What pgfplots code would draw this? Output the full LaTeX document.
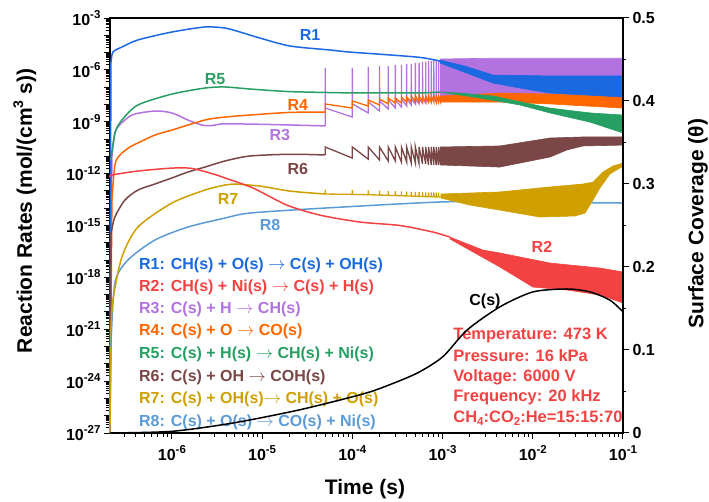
\documentclass[border=0pt]{standalone}
\usepackage{fontspec}
\setmainfont{Liberation Sans}
\usepackage{pgfplots}
\pgfplotsset{compat=1.18}
\definecolor{cA}{RGB}{26,105,224}
\definecolor{cB}{RGB}{244,66,66}
\definecolor{cC}{RGB}{178,114,224}
\definecolor{cD}{RGB}{255,102,0}
\definecolor{cE}{RGB}{38,160,98}
\definecolor{cF}{RGB}{122,70,70}
\definecolor{cG}{RGB}{208,160,0}
\definecolor{cH}{RGB}{91,155,213}
\newcommand\fs[1]{\fontsize{#1}{#1}\selectfont}
\newcommand\su[1]{\raisebox{0.42em}{\fs{11.5}#1}}
\newcommand\sub[1]{\raisebox{-0.22em}{\fs{11.5}#1}}
\pgfplotsset{table/lg/.style={header=false,row sep=\\,x expr=10^(\thisrowno{0}),y expr=10^(\thisrowno{1})},
 table/lt/.style={header=false,row sep=\\,x expr=10^(\thisrowno{0}),y index=1},
 ln/.style={line width=1.5pt,line join=round},
 sm/.style={line width=1.5pt,line join=round,smooth,tension=0.45},
 sw/.style={line width=1.3pt,line join=miter},
 bd/.style={draw=#1,fill=#1,line width=0.6pt}}
\def\yminor{1e-27}
\foreach \e in {-27,...,-4}{\foreach \m in {2,...,9}{\xdef\yminor{\yminor,\m e\e}}}
\def\xminor{3e-7,4e-7,5e-7,6e-7,7e-7,8e-7,9e-7}
\foreach \e in {-6,...,-2}{\foreach \m in {2,...,9}{\xdef\xminor{\xminor,\m e\e}}}
\begin{document}
\begin{tikzpicture}[font=\bfseries]
\begin{axis}[
 scale only axis, width=513pt, height=415pt,
 at={(0,0)}, anchor=south west,
 xmode=log, ymode=log,
 xmin=2.06e-7, xmax=0.1, ymin=1e-27, ymax=1e-3,
 clip=false,
 axis line style={line width=1.2pt},
 tick align=outside, xtick pos=bottom, ytick pos=left,
 major tick length=6pt, minor tick length=3.5pt,
 tick style={line width=1pt,black},
 xtick={1e-6,1e-5,1e-4,1e-3,1e-2,1e-1},
 minor xtick/.expand once=\xminor,
 xticklabels={10\su{-6},10\su{-5},10\su{-4},10\su{-3},10\su{-2},10\su{-1}},
 ytick={1e-27,1e-26,1e-25,1e-24,1e-23,1e-22,1e-21,1e-20,1e-19,1e-18,1e-17,1e-16,1e-15,1e-14,1e-13,1e-12,1e-11,1e-10,1e-9,1e-8,1e-7,1e-6,1e-5,1e-4,1e-3},
 minor ytick/.expand once=\yminor,
 yticklabels={10\su{-27},,,10\su{-24},,,10\su{-21},,,10\su{-18},,,10\su{-15},,,10\su{-12},,,10\su{-9},,,10\su{-6},,,10\su{-3}},
 tick label style={font=\bfseries\fs{16}},
 xticklabel style={yshift=-3pt},
]
% initial vertical rises
\addplot[ln,cC] table[lg]{-6.687 -27\\ -6.665 -11.0\\};
\addplot[ln,cD] table[lg]{-6.687 -27\\ -6.665 -13.53\\};
\addplot[ln,cE] table[lg]{-6.687 -27\\ -6.676 -11.21\\};
\addplot[ln,cA] table[lg]{-6.687 -27\\ -6.676 -5.60\\};
\addplot[ln,cF] table[lg]{-6.687 -27\\ -6.676 -15.5\\};
\addplot[ln,cH] table[lg]{-6.687 -27\\ -6.676 -22.0\\};
\addplot[ln,cG] table[lg]{-6.687 -27\\ -6.676 -21.0\\};
% R3 purple
\addplot[sm,cC] table[lg]{
-6.665 -11.0\\ -6.632 -9.71\\ -6.599 -9.30\\ -6.443 -8.61\\ -6.188 -8.38\\ -6.000 -8.49\\ -5.823 -8.90\\ -5.667 -9.19\\ -5.557 -9.22\\ -5.412 -9.12\\ -4.900 -9.16\\ -4.301 -9.24\\
};
\addplot[sw,cC] table[lg]{
-4.301 -9.24\\ -4.301 -5.89\\ -4.299 -8.21\\
-4.000 -8.73\\ -4.000 -5.89\\ -3.998 -7.97\\
-3.824 -8.49\\ -3.824 -5.83\\ -3.822 -7.86\\
-3.699 -8.38\\ -3.699 -5.78\\ -3.697 -7.80\\
-3.602 -8.26\\ -3.602 -5.78\\ -3.600 -7.74\\
-3.523 -8.21\\ -3.523 -5.72\\ -3.521 -7.74\\
-3.456 -8.15\\ -3.456 -5.72\\ -3.454 -7.69\\
-3.398 -8.09\\ -3.398 -5.66\\ -3.396 -7.69\\
-3.347 -8.03\\ -3.347 -5.66\\ -3.345 -7.69\\
-3.301 -7.97\\ -3.301 -5.60\\ -3.299 -7.69\\
-3.260 -7.97\\ -3.260 -5.60\\ -3.258 -7.69\\
-3.222 -7.92\\ -3.222 -5.54\\ -3.220 -7.69\\
-3.187 -7.92\\ -3.187 -5.54\\ -3.185 -7.69\\
-3.155 -7.86\\ -3.155 -5.49\\ -3.153 -7.69\\
-3.125 -7.86\\ -3.125 -5.49\\ -3.123 -7.69\\
-3.097 -7.80\\ -3.097 -5.43\\ -3.095 -7.69\\
-3.071 -7.80\\ -3.071 -5.43\\ -3.069 -7.69\\
-3.046 -7.74\\ -3.046 -5.43\\ -3.044 -7.69\\
-3.022 -7.74\\ -3.022 -5.37\\
};
\addplot[bd=cC] table[lg]{
-3.022 -5.37\\ -2.500 -5.33\\ -1.000 -5.33\\ -1.000 -7.74\\ -2.500 -7.74\\ -3.022 -7.74\\
};
% R4 orange
\addplot[sm,cD] table[lg]{
-6.665 -13.53\\ -6.632 -11.50\\ -6.576 -10.92\\ -6.466 -10.46\\ -6.377 -10.23\\ -6.188 -9.77\\ -6.000 -9.48\\ -5.634 -8.90\\ -5.412 -8.73\\ -5.135 -8.61\\ -4.692 -8.46\\ -4.301 -8.44\\
};
\addplot[sw,cD] table[lg]{
-4.301 -8.44\\ -4.301 -7.97\\
-4.000 -8.21\\ -4.000 -7.80\\
-3.824 -8.09\\ -3.824 -7.74\\
-3.699 -8.03\\ -3.699 -7.69\\
-3.602 -7.97\\ -3.602 -7.63\\
-3.523 -7.92\\ -3.523 -7.63\\
-3.456 -7.92\\ -3.456 -7.57\\
-3.398 -7.86\\ -3.398 -7.57\\
-3.347 -7.86\\ -3.347 -7.51\\
-3.301 -7.86\\ -3.301 -7.51\\
-3.260 -7.86\\ -3.260 -7.51\\
-3.222 -7.86\\ -3.222 -7.51\\
-3.187 -7.86\\ -3.187 -7.51\\
-3.155 -7.86\\ -3.155 -7.51\\
-3.125 -7.86\\ -3.125 -7.51\\
-3.097 -7.86\\ -3.097 -7.51\\
-3.071 -7.86\\ -3.071 -7.51\\
-3.046 -7.86\\ -3.046 -7.51\\
-3.022 -7.86\\ -3.022 -7.51\\
};
\addplot[bd=cD] table[lg]{
-3.022 -7.51\\ -2.364 -7.34\\ -1.809 -7.40\\ -1.000 -7.57\\ -1.000 -8.21\\ -1.809 -7.97\\ -2.364 -7.86\\ -3.022 -7.86\\
};
\addplot[cD,line width=1.2pt] table[lg]{ -1.000 -8.21\\ -1.000 -14.51\\ };
% R5 green
\addplot[sm,cE] table[lg]{
-6.676 -11.21\\ -6.632 -9.65\\ -6.554 -8.90\\ -6.377 -8.03\\ -6.000 -7.40\\ -5.634 -7.05\\ -5.412 -6.99\\ -5.102 -7.12\\ -4.725 -7.25\\ -4.359 -7.30\\ -3.993 -7.33\\ -3.251 -7.33\\ -3.029 -7.28\\
};
\addplot[bd=cE] table[lg]{
-3.029 -7.28\\ -2.807 -7.34\\ -2.441 -7.51\\ -1.809 -8.21\\ -1.366 -8.49\\ -1.000 -8.61\\ -1.000 -9.65\\ -1.366 -9.02\\ -1.809 -8.49\\ -2.142 -8.03\\ -2.585 -7.63\\ -3.029 -7.28\\
};
% R1 blue
\addplot[sm,cA] table[lg]{
-6.676 -5.60\\ -6.654 -4.97\\ -6.554 -4.68\\ -6.377 -4.27\\ -6.000 -3.81\\ -5.634 -3.52\\ -5.412 -3.58\\ -5.246 -3.81\\ -5.024 -4.16\\ -4.692 -4.62\\ -4.248 -4.85\\ -4.027 -4.97\\ -3.284 -5.26\\ -3.029 -5.49\\
};
\addplot[bd=cA] table[lg]{
-3.029 -5.43\\ -2.752 -5.78\\ -2.441 -6.30\\ -1.809 -6.35\\ -1.000 -6.35\\ -1.000 -7.57\\ -1.809 -7.34\\ -2.142 -7.05\\ -2.441 -6.76\\ -3.029 -5.60\\
};
% R6 brown
\addplot[sm,cF] table[lg]{
-6.676 -15.5\\ -6.632 -14.51\\ -6.521 -13.53\\ -6.377 -12.95\\ -6.188 -12.60\\ -6.000 -12.25\\ -5.823 -11.91\\ -5.634 -11.62\\ -5.412 -11.27\\ -5.135 -10.98\\ -4.692 -10.88\\ -4.301 -10.92\\
};
\addplot[sw,cF] table[lg]{
-4.301 -10.92\\ -4.301 -10.46\\
-4.000 -11.10\\ -4.000 -10.46\\
-3.824 -11.16\\ -3.824 -10.46\\
-3.699 -11.21\\ -3.699 -10.46\\
-3.602 -11.27\\ -3.602 -10.46\\
-3.523 -11.27\\ -3.523 -10.46\\
-3.456 -11.33\\ -3.456 -10.46\\
-3.398 -11.33\\ -3.398 -10.46\\
-3.347 -11.39\\ -3.347 -10.46\\
-3.301 -11.39\\ -3.301 -10.46\\
-3.260 -11.44\\ -3.260 -10.46\\
-3.222 -11.44\\ -3.222 -10.46\\
-3.187 -11.44\\ -3.187 -10.46\\
-3.155 -11.50\\ -3.155 -10.46\\
-3.125 -11.50\\ -3.125 -10.46\\
-3.097 -11.50\\ -3.097 -10.46\\
-3.071 -11.50\\ -3.071 -10.46\\
-3.046 -11.50\\ -3.046 -10.46\\
-3.022 -11.50\\ -3.022 -10.46\\
};
\addplot[bd=cF] table[lg]{
-3.022 -10.46\\ -2.364 -10.40\\ -1.809 -9.94\\ -1.443 -9.88\\ -1.000 -9.88\\ -1.000 -10.35\\ -1.443 -10.40\\ -1.621 -10.63\\ -1.809 -11.04\\ -2.364 -11.62\\ -3.022 -11.50\\
};
% R8 light blue
\addplot[sm,cH] table[lg]{
-6.676 -22.0\\ -6.632 -18.33\\ -6.488 -17.00\\ -6.188 -15.84\\ -5.823 -15.09\\ -5.412 -14.57\\ -5.135 -14.28\\ -4.304 -13.99\\ -3.029 -13.64\\ -2.364 -13.64\\ -1.000 -13.70\\
};
% R7 gold
\addplot[sm,cG] table[lg]{
-6.676 -21.0\\ -6.654 -19.31\\ -6.554 -16.82\\ -6.377 -15.09\\ -6.000 -13.70\\ -5.634 -12.95\\ -5.412 -12.66\\ -5.324 -12.60\\ -5.024 -12.72\\ -4.692 -13.01\\ -4.301 -13.18\\
};
\addplot[sw,cG] table[lg]{
-4.301 -13.18\\ -4.301 -12.93\\ -4.299 -13.18\\
-4.000 -13.20\\ -4.000 -12.95\\ -3.998 -13.20\\
-3.824 -13.22\\ -3.824 -12.97\\ -3.822 -13.22\\
-3.699 -13.24\\ -3.699 -12.99\\ -3.697 -13.24\\
-3.602 -13.26\\ -3.602 -13.01\\ -3.600 -13.26\\
-3.523 -13.27\\ -3.523 -13.02\\ -3.521 -13.27\\
-3.456 -13.28\\ -3.456 -13.03\\ -3.454 -13.28\\
-3.398 -13.29\\ -3.398 -13.04\\ -3.396 -13.29\\
-3.347 -13.30\\ -3.347 -13.05\\ -3.345 -13.30\\
-3.301 -13.31\\ -3.301 -13.06\\ -3.299 -13.31\\
-3.260 -13.32\\ -3.260 -13.07\\ -3.258 -13.32\\
-3.222 -13.32\\ -3.222 -13.07\\ -3.220 -13.32\\
-3.187 -13.33\\ -3.187 -13.08\\ -3.185 -13.33\\
-3.155 -13.33\\ -3.155 -13.08\\ -3.153 -13.33\\
-3.125 -13.34\\ -3.125 -13.09\\ -3.123 -13.34\\
-3.097 -13.34\\ -3.097 -13.09\\ -3.095 -13.34\\
-3.071 -13.35\\ -3.071 -13.10\\ -3.069 -13.35\\
-3.046 -13.35\\ -3.046 -13.10\\ -3.044 -13.35\\
-3.022 -13.35\\
};
\addplot[bd=cG] table[lg]{
-3.022 -13.18\\ -2.364 -13.06\\ -1.809 -12.77\\ -1.443 -12.60\\ -1.333 -12.49\\ -1.222 -11.91\\ -1.111 -11.56\\ -1.000 -11.39\\
-1.000 -11.56\\ -1.144 -12.02\\ -1.255 -12.83\\ -1.333 -13.53\\ -1.421 -14.28\\ -1.532 -14.45\\ -1.920 -14.51\\ -2.364 -14.11\\ -2.696 -13.82\\ -3.022 -13.41\\
};
\addplot[cG,line width=1.2pt] table[lg]{ -1.000 -11.39\\ -1.000 -14.51\\ };
% R2 red
\addplot[sm,cB] table[lg]{
-6.687 -12.20\\ -6.665 -12.08\\ -6.377 -11.85\\ -6.000 -11.68\\ -5.778 -11.70\\ -5.523 -12.05\\ -5.412 -12.25\\ -5.102 -12.83\\ -4.725 -13.82\\ -4.359 -14.40\\ -3.916 -14.80\\ -3.472 -15.00\\ -3.106 -15.38\\ -2.918 -15.67\\
};
\addplot[bd=cB] table[lg]{
-2.918 -15.67\\ -2.552 -16.42\\ -2.364 -16.59\\ -1.809 -17.17\\ -1.255 -17.46\\ -1.000 -17.69\\ -1.000 -19.48\\ -1.255 -19.02\\ -1.621 -18.73\\ -1.998 -18.56\\ -2.364 -17.40\\ -2.918 -15.78\\
};
% curve labels
\node[cA,font=\bfseries\fs{16}] at (rel axis cs:0.390,0.959) {R1};
\node[cE,font=\bfseries\fs{16}] at (rel axis cs:0.205,0.853) {R5};
\node[cD,font=\bfseries\fs{16}] at (rel axis cs:0.366,0.790) {R4};
\node[cC,font=\bfseries\fs{16}] at (rel axis cs:0.331,0.718) {R3};
\node[cF,font=\bfseries\fs{16}] at (rel axis cs:0.366,0.636) {R6};
\node[cG,font=\bfseries\fs{16}] at (rel axis cs:0.230,0.564) {R7};
\node[cH,font=\bfseries\fs{16}] at (rel axis cs:0.312,0.501) {R8};
\node[cB,font=\bfseries\fs{16}] at (rel axis cs:0.842,0.448) {R2};
\node[black,font=\bfseries\fs{16}] at (rel axis cs:0.731,0.318) {C(s)};
% reaction list
\begin{scope}[every node/.style={anchor=west,inner sep=0pt,font=\bfseries\fs{16}}]
\node[cA] at (rel axis cs:0.0565,0.405) {R1: CH(s) + O(s) $\rightarrow$ C(s) + OH(s)};
\node[cB] at (rel axis cs:0.0565,0.352) {R2: CH(s) + Ni(s) $\rightarrow$ C(s) + H(s)};
\node[cC] at (rel axis cs:0.0565,0.299) {R3: C(s) + H $\rightarrow$ CH(s)};
\node[cD] at (rel axis cs:0.0565,0.246) {R4: C(s) + O $\rightarrow$ CO(s)};
\node[cE] at (rel axis cs:0.0565,0.190) {R5: C(s) + H(s) $\rightarrow$ CH(s) + Ni(s)};
\node[cF] at (rel axis cs:0.0565,0.135) {R6: C(s) + OH $\rightarrow$ COH(s)};
\node[cG] at (rel axis cs:0.0565,0.082) {R7: C(s) + OH(s)$\rightarrow$ CH(s) + O(s)};
\node[cH] at (rel axis cs:0.0565,0.0265) {R8: C(s) + O(s) $\rightarrow$ CO(s) + Ni(s)};
\end{scope}
\begin{scope}[every node/.style={anchor=west,inner sep=0pt,font=\bfseries\fs{16.5}}]
\node[cB] at (rel axis cs:0.669,0.236) {Temperature: 473 K};
\node[cB] at (rel axis cs:0.669,0.186) {Pressure: 16 kPa};
\node[cB] at (rel axis cs:0.669,0.135) {Voltage: 6000 V};
\node[cB] at (rel axis cs:0.669,0.087) {Frequency: 20 kHz};
\node[cB] at (rel axis cs:0.669,0.036) {CH\sub{4}:CO\sub{2}:He=15:15:70};
\end{scope}
% axis titles
\node[rotate=90,font=\bfseries\fs{21}] at (rel axis cs:-0.166,0.535) {Reaction Rates (mol/(cm\raisebox{0.42em}{\fs{14}3} s))};
\node[font=\bfseries\fs{21}] at (rel axis cs:0.497,-0.135) {Time (s)};
\node[rotate=90,font=\bfseries\fs{21}] at (rel axis cs:1.146,0.504) {Surface Coverage (θ)};
\end{axis}
\begin{axis}[
 scale only axis, width=513pt, height=415pt,
 at={(0,0)}, anchor=south west,
 xmode=log, xmin=2.06e-7, xmax=0.1, ymin=0, ymax=0.5,
 axis x line=none, axis y line*=right,
 axis line style={line width=1.2pt},
 tick align=outside,
 major tick length=6pt, minor tick length=3.5pt,
 tick style={line width=1pt,black},
 ytick={0,0.1,0.2,0.3,0.4,0.5},
 yticklabels={0,0.1,0.2,0.3,0.4,0.5},
 minor ytick={0.05,0.15,0.25,0.35,0.45},
 tick label style={font=\bfseries\fs{16}},
]
\addplot[sm,black] table[lt]{
-6.687 0.0\\ -6.000 0.002\\ -5.324 0.012\\ -4.581 0.028\\ -3.916 0.046\\ -3.661 0.055\\ -3.284 0.072\\ -2.996 0.092\\ -2.729 0.124\\ -2.364 0.152\\ -1.998 0.170\\ -1.621 0.1735\\ -1.366 0.170\\ -1.144 0.160\\ -1.000 0.146\\
};
\end{axis}
\pgfresetboundingbox
\path[use as bounding box] (-110pt,-69pt) rectangle (599pt,433pt);
\end{tikzpicture}
\end{document}
